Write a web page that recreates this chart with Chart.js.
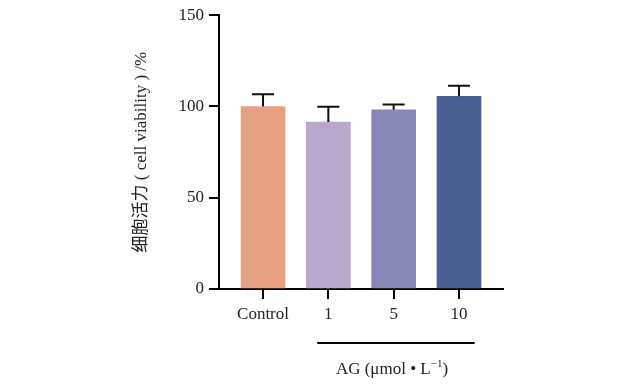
<!DOCTYPE html>
<html>
<head>
<meta charset="utf-8">
<script src="https://cdn.jsdelivr.net/npm/chart.js@4/dist/chart.umd.min.js"></script>
<style>
  html, body { margin: 0; padding: 0; background: #fff; }
  #wrap { width: 621px; height: 385px; }
</style>
</head>
<body>
<div id="wrap"><canvas id="viabilityChart"></canvas></div>
<script>
const categories = ["Control", "1", "5", "10"];
const viability = [100, 91.5, 98.2, 105.6];
const viabilitySd = [6.7, 8.3, 2.9, 5.7];
const yTicks = [0, 50, 100, 150];
const barColors = ["#E8A083", "#B6A7CB", "#8888B7", "#4A6092"];

const serif = "'Liberation Serif', 'Times New Roman', 'Noto Sans CJK SC', serif";

const errorBars = {
  id: "errorBars",
  afterDatasetsDraw(chart) {
    const { ctx, scales: { x, y } } = chart;
    ctx.save();
    ctx.strokeStyle = "#111";
    ctx.lineWidth = 2;
    viability.forEach((v, i) => {
      const px = x.getPixelForValue(i);
      const top = y.getPixelForValue(v + viabilitySd[i]);
      const base = y.getPixelForValue(v);
      ctx.beginPath();
      ctx.moveTo(px, base);
      ctx.lineTo(px, top);
      ctx.moveTo(px - 11, top);
      ctx.lineTo(px + 11, top);
      ctx.stroke();
    });
    ctx.restore();
  },
};

// bracket under the AG doses
const doseLabel = {
  id: "doseLabel",
  afterDraw(chart) {
    const { ctx, scales: { x }, chartArea } = chart;
    const x1 = x.getPixelForValue(0.83);
    const x2 = x.getPixelForValue(3.24);
    const ly = chartArea.bottom + 54;
    ctx.save();
    ctx.strokeStyle = "#000";
    ctx.lineWidth = 2;
    ctx.beginPath();
    ctx.moveTo(x1, ly);
    ctx.lineTo(x2, ly);
    ctx.stroke();

    ctx.fillStyle = "#222";
    ctx.textBaseline = "alphabetic";
    const main = "AG (μmol • L";
    const sup = "−1";
    const tail = ")";
    ctx.font = "17px " + serif;
    const wMain = ctx.measureText(main).width;
    const wTail = ctx.measureText(tail).width;
    ctx.font = "11px " + serif;
    const wSup = ctx.measureText(sup).width;
    const total = wMain + wSup + wTail;
    let tx = 392 - total / 2;
    const ty = chartArea.bottom + 85;
    ctx.font = "17px " + serif;
    ctx.fillText(main, tx, ty);
    tx += wMain;
    ctx.font = "11px " + serif;
    ctx.fillText(sup, tx, ty - 7);
    tx += wSup;
    ctx.font = "17px " + serif;
    ctx.fillText(tail, tx, ty);
    ctx.restore();
  },
};

new Chart(document.getElementById("viabilityChart"), {
  type: "bar",
  data: {
    datasets: [
      {
        data: viability.map((v, i) => ({ x: i, y: v })),
        backgroundColor: barColors,
        borderWidth: 0,
        barThickness: 44,
      },
    ],
  },
  options: {
    responsive: true,
    maintainAspectRatio: false,
    animation: false,
    layout: { padding: { left: 0, right: 118, top: 14, bottom: 0 } },
    plugins: { legend: { display: false }, tooltip: { enabled: false } },
    scales: {
      x: {
        type: "linear",
        offset: false,
        min: -0.674,
        max: 3.674,
        afterBuildTicks: (scale) => {
          scale.ticks = categories.map((c, i) => ({ value: i }));
        },
        afterFit: (scale) => {
          scale.height = 96;
        },
        border: { color: "#000", width: 2 },
        grid: {
          offset: false,
          drawOnChartArea: false,
          color: "#000",
          lineWidth: 2,
          tickLength: 10,
        },
        ticks: {
          color: "#222",
          padding: 5,
          maxRotation: 0,
          font: { family: serif, size: 17 },
          callback: (value) => categories[value],
        },
      },
      y: {
        min: 0,
        max: 150,
        afterBuildTicks: (scale) => {
          scale.ticks = yTicks.map((v) => ({ value: v }));
        },
        afterFit: (scale) => {
          scale.width = 219;
        },
        border: { color: "#000", width: 2 },
        grid: {
          drawOnChartArea: false,
          color: "#000",
          lineWidth: 2,
          tickLength: 10,
        },
        ticks: {
          color: "#222",
          padding: 5,
          font: { family: serif, size: 17 },
        },
        title: {
          display: true,
          text: "细胞活力 ( cell viability ) /%",
          color: "#222",
          padding: { top: 132 },
          font: { family: serif, size: 17, lineHeight: 1.125 },
        },
      },
    },
  },
  plugins: [errorBars, doseLabel],
});
</script>
</body>
</html>
